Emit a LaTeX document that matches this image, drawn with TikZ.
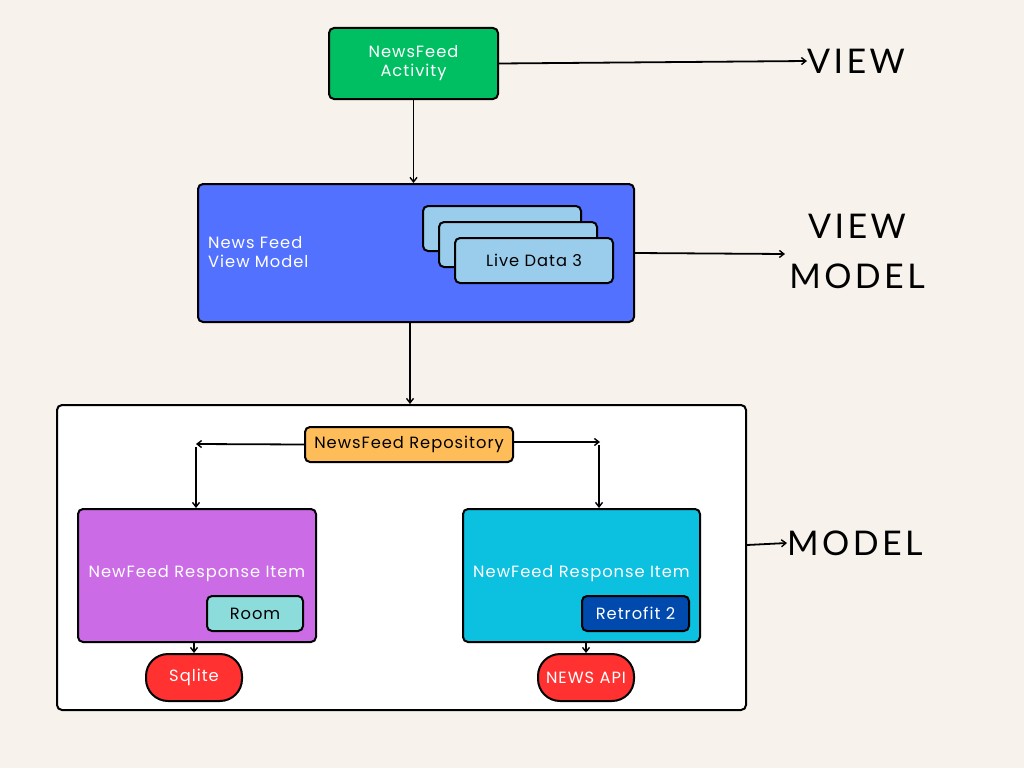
\documentclass[tikz,border=0pt]{standalone}
\usepackage{fontspec}
\setmainfont{Poppins}
\newfontfamily\boxfont{Poppins}[LetterSpace=6]
\newfontfamily\layerfont{Lato}[LetterSpace=10]
\usetikzlibrary{arrows.meta}
\definecolor{bgcol}{HTML}{F7F3EC}
\definecolor{actgreen}{HTML}{00BF63}
\definecolor{vmblue}{HTML}{5271FF}
\definecolor{ldblue}{HTML}{9ACDEB}
\definecolor{repoorange}{HTML}{FFBD59}
\definecolor{roompurple}{HTML}{CB6CE6}
\definecolor{roomteal}{HTML}{8DDCDC}
\definecolor{apicyan}{HTML}{0CC0DF}
\definecolor{retroblue}{HTML}{004AAD}
\definecolor{dbred}{HTML}{FF3131}
\tikzset{
  boxtext/.style={font=\boxfont\fontsize{16.3}{19}\selectfont},
  box/.style={draw=black, line width=2pt, rounded corners=5pt, inner sep=0pt,
    boxtext, align=center},
  pill/.style={box, rounded corners=22pt, text=white},
  conn/.style={line width=1.8pt, -{Straight Barb[length=4.5pt,width=7pt,line width=1.4pt]}},
  layer/.style={font=\layerfont\fontsize{34}{50}\selectfont, align=center, inner sep=0pt}
}
\begin{document}
\begin{tikzpicture}[x=1pt,y=-1pt]
\useasboundingbox[fill=bgcol] (0,0) rectangle (1024,768);

% view layer
\node[box, fill=actgreen, text=white, minimum width=169pt, minimum height=71pt] (act) at (413.5,63.5) {NewsFeed\\Activity};
\node[layer, anchor=west] (lview) at (807,61) {VIEW};
\draw[conn] (act.east) -- (lview.west);

% view model layer
\node[box, fill=vmblue, minimum width=436pt, minimum height=138pt] (vm) at (416,253) {};
\node[boxtext, text=white, align=left, anchor=west, inner sep=0pt] (vmtxt) at (208,252) {News Feed\\View Model};
\node[box, fill=ldblue, minimum width=158pt, minimum height=45pt] (ld1) at (502,228.5) {};
\node[box, fill=ldblue, minimum width=158pt, minimum height=45pt] (ld2) at (518,244.5) {};
\node[box, fill=ldblue, minimum width=158pt, minimum height=45pt] (ld3) at (534,260.5) {Live Data 3};
\node[layer] (lvm) at (857,251) {VIEW\\MODEL};
\coordinate (vmarr) at (785,254);
\draw[conn] (vm.east) -- (vmarr);
\draw[conn] (act.south) -- (vm.north -| act.south);

% model layer
\node[box, fill=white, minimum width=689pt, minimum height=305pt] (model) at (401.5,557.5) {};
\draw[conn] (vm.south -| 410,0) -- (model.north -| 410,0);
\node[layer, anchor=west] (lmodel) at (787,543) {MODEL};
\draw[conn] (model.east |- 0,545) -- (lmodel.west);

\node[box, fill=repoorange, minimum width=208pt, minimum height=35pt] (repo) at (409,444.5) {NewsFeed Repository};

\node[box, fill=roompurple, text=white, minimum width=238pt, minimum height=133pt] (local) at (197,575.5) {};
\node[boxtext, text=white, inner sep=0pt] (localtxt) at (197,574) {NewFeed Response Item};
\node[box, fill=roomteal, minimum width=96pt, minimum height=35pt] (room) at (255,613.5) {Room};

\node[box, fill=apicyan, minimum width=237pt, minimum height=133pt] (remote) at (581.5,575.5) {};
\node[boxtext, text=white, inner sep=0pt] (remotetxt) at (581.5,574) {NewFeed Response Item};
\node[box, fill=retroblue, text=white, minimum width=107pt, minimum height=35pt] (retro) at (635.5,613.5) {Retrofit 2};

\node[pill, fill=dbred, minimum width=96pt, minimum height=47pt] (sqlite) at (194,677.5) {Sqlite};
\node[pill, fill=dbred, minimum width=96pt, minimum height=47pt] (api) at (586,677.5) {NEWS API};

% repository fan-out
\coordinate (lturn) at (196,444);
\coordinate (rturn) at (600,442);
\draw[conn] (repo.west) -- (lturn);
\draw[conn] (196,447) -- (local.north -| 196,0);
\draw[conn] (repo.east |- rturn) -- (rturn);
\draw[conn] (599,445) -- (remote.north -| 599,0);

% data sources
\draw[conn] (local.south -| sqlite) -- (sqlite.north);
\draw[conn] (remote.south -| api) -- (api.north);
\end{tikzpicture}
\end{document}
